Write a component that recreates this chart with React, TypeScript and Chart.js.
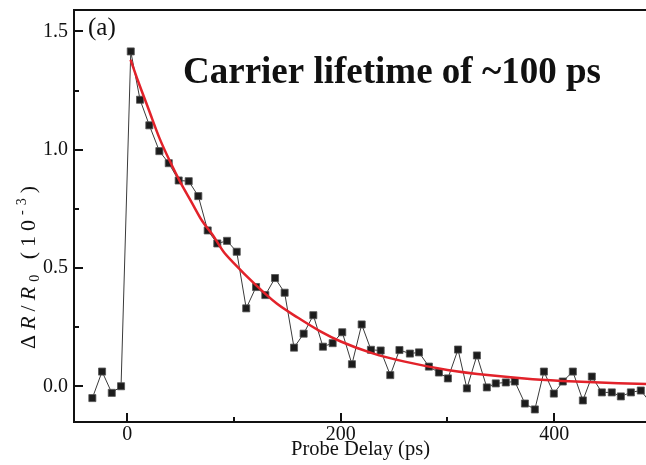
import React, { useEffect, useRef } from "react";
import { Chart, registerables } from "chart.js";

Chart.register(...registerables);

// Measured data (probe delay in ps, ΔR/R0 in 10^-3)
const delayPs = [
  -32.8, -23.7, -14.6, -5.9, 3.2, 11.9, 20.6, 30.0, 38.8, 48.1, 57.5, 66.5, 75.3, 84.3, 93.4,
  102.5, 111.4, 120.6, 129.3, 138.4, 147.4, 156.2, 165.2, 174.3, 183.3, 192.4, 201.4, 210.5,
  219.6, 228.3, 237.4, 246.4, 255.0, 264.8, 273.3, 282.6, 292.0, 300.4, 309.9, 318.2, 327.6,
  336.9, 345.3, 354.7, 363.1, 372.6, 381.9, 390.4, 399.7, 408.1, 417.5, 426.9, 435.3, 444.7,
  454.0, 462.5, 471.9, 481.2, 490.2,
];
const deltaR = [
  -0.049, 0.063, -0.027, 0.001, 1.415, 1.211, 1.103, 0.994, 0.943, 0.87, 0.867, 0.804, 0.659,
  0.604, 0.615, 0.569, 0.33, 0.42, 0.386, 0.458, 0.396, 0.164, 0.223, 0.301, 0.168, 0.183,
  0.229, 0.094, 0.262, 0.155, 0.152, 0.048, 0.154, 0.139, 0.144, 0.084, 0.059, 0.034, 0.156,
  -0.008, 0.131, -0.004, 0.013, 0.017, 0.021, -0.072, -0.097, 0.063, -0.03, 0.021, 0.063,
  -0.059, 0.042, -0.025, -0.025, -0.042, -0.025, -0.017, -0.068,
];

// Fitted decay curve
const fitDelay = [3, 10, 20, 30, 40, 50, 60, 70, 80, 90, 100, 120, 140, 160, 180, 200, 230, 260, 300, 340, 380, 420, 460, 500];
const fitValue = [1.38, 1.29, 1.17, 1.05, 0.95, 0.86, 0.78, 0.7, 0.64, 0.57, 0.52, 0.43, 0.35, 0.29, 0.235, 0.19, 0.14, 0.105, 0.07, 0.047, 0.031, 0.021, 0.014, 0.009];

// Axis ticks
const xMajorTicks = [0, 200, 400];
const xMinorTicks = [100, 300];
const yMajorTicks = [0, 0.5, 1.0, 1.5];
const yMinorTicks = [0.25, 0.75, 1.25];

const SERIF = "'Liberation Serif', 'Times New Roman', serif";

const decorPlugin = {
  id: "decor",
  afterDatasetsDraw(chart: any) {
    const { ctx, chartArea: a, scales } = chart;
    const xs = scales.x;
    const ys = scales.y;
    ctx.save();
    ctx.strokeStyle = "#111";
    ctx.lineWidth = 2;
    ctx.lineCap = "square";
    ctx.beginPath();
    ctx.moveTo(a.right, a.top);
    ctx.lineTo(a.left, a.top);
    ctx.lineTo(a.left, a.bottom);
    ctx.lineTo(a.right, a.bottom);
    ctx.lineTo(a.right, a.top);
    ctx.stroke();
    ctx.lineCap = "butt";
    ctx.beginPath();
    xMajorTicks.forEach((v) => {
      const p = Math.round(xs.getPixelForValue(v));
      ctx.moveTo(p, a.bottom);
      ctx.lineTo(p, a.bottom - 9);
    });
    xMinorTicks.forEach((v) => {
      const p = Math.round(xs.getPixelForValue(v));
      ctx.moveTo(p, a.bottom);
      ctx.lineTo(p, a.bottom - 5);
    });
    yMajorTicks.forEach((v) => {
      const p = Math.round(ys.getPixelForValue(v));
      ctx.moveTo(a.left, p);
      ctx.lineTo(a.left + 9, p);
    });
    yMinorTicks.forEach((v) => {
      const p = Math.round(ys.getPixelForValue(v));
      ctx.moveTo(a.left, p);
      ctx.lineTo(a.left + 5, p);
    });
    ctx.stroke();
    ctx.restore();
  },
  afterDraw(chart: any) {
    const { ctx, chartArea: a } = chart;
    ctx.save();
    ctx.fillStyle = "#111";
    ctx.textBaseline = "alphabetic";
    // panel label
    ctx.font = `25px ${SERIF}`;
    ctx.textAlign = "left";
    ctx.fillText("(a)", 88, 35);
    // annotation
    ctx.font = `bold 37px ${SERIF}`;
    ctx.fillText("Carrier lifetime of ~100 ps", 183, 83);
    // x title
    ctx.font = `20.5px ${SERIF}`;
    ctx.textAlign = "center";
    ctx.fillText("Probe Delay (ps)", (a.left + a.right) / 2, 455);
    // y title (rich text)
    const parts = [
      { t: "Δ", f: `22px ${SERIF}`, dy: 0 },
      { t: "R", f: `italic 22px ${SERIF}`, dy: 0 },
      { t: "/", f: `22px ${SERIF}`, dy: 0 },
      { t: "R", f: `italic 22px ${SERIF}`, dy: 0 },
      { t: "0", f: `14px ${SERIF}`, dy: 4 },
      { t: " (10", f: `22px ${SERIF}`, dy: 0 },
      { t: "-3", f: `14px ${SERIF}`, dy: -9 },
      { t: ")", f: `22px ${SERIF}`, dy: 0 },
    ];
    const spacing = 5;
    (ctx as any).letterSpacing = `${spacing}px`;
    let total = 0;
    const widths = parts.map((p) => {
      ctx.font = p.f;
      const w = ctx.measureText(p.t).width;
      total += w;
      return w;
    });
    ctx.translate(35, 265);
    ctx.rotate(-Math.PI / 2);
    ctx.textAlign = "left";
    let cx = -total / 2;
    parts.forEach((p, i) => {
      ctx.font = p.f;
      ctx.fillText(p.t, cx, p.dy);
      cx += widths[i];
    });
    ctx.restore();
  },
};

export default function App() {
  const ref = useRef<HTMLCanvasElement>(null);
  useEffect(() => {
    const canvas = ref.current;
    if (!canvas) return;
    const chart = new Chart(canvas, {
      type: "line",
      data: {
        datasets: [
          {
            label: "data",
            data: delayPs.map((x, i) => ({ x, y: deltaR[i] })),
            borderColor: "#3a3a3a",
            borderWidth: 1,
            pointStyle: "rect",
            pointRadius: 5,
            pointBackgroundColor: "#1c1c1c",
            pointBorderColor: "#555",
            pointBorderWidth: 0.8,
            tension: 0,
            order: 2,
          },
          {
            label: "fit",
            data: fitDelay.map((x, i) => ({ x, y: fitValue[i] })),
            borderColor: "#e2222a",
            borderWidth: 2.5,
            pointRadius: 0,
            cubicInterpolationMode: "monotone",
            order: 1,
          },
        ],
      },
      options: {
        responsive: false,
        animation: false,
        layout: { padding: { left: 0, right: 13, top: 10, bottom: 0 } },
        plugins: { legend: { display: false }, tooltip: { enabled: false } },
        scales: {
          x: {
            type: "linear",
            min: -50,
            max: 487,
            afterBuildTicks: (s: any) => {
              s.ticks = xMajorTicks.map((v) => ({ value: v }));
            },
            afterFit: (s: any) => {
              s.height = 43;
              s.paddingLeft = 0;
              s.paddingRight = 0;
            },
            grid: { display: false, drawTicks: false },
            border: { display: false },
            ticks: {
              padding: 1,
              color: "#111",
              font: { family: SERIF, size: 20 },
              maxRotation: 0,
              callback: (v: any) => String(v),
            },
          },
          y: {
            type: "linear",
            min: -0.15,
            max: 1.59,
            afterBuildTicks: (s: any) => {
              s.ticks = yMajorTicks.map((v) => ({ value: v }));
            },
            afterFit: (s: any) => {
              s.width = 74;
              s.paddingTop = 0;
              s.paddingBottom = 0;
            },
            grid: { display: false, drawTicks: false },
            border: { display: false },
            ticks: {
              padding: 6,
              color: "#111",
              font: { family: SERIF, size: 20 },
              callback: (v: any) => Number(v).toFixed(1),
            },
          },
        },
      },
      plugins: [decorPlugin],
    });
    return () => chart.destroy();
  }, []);
  return (
    <div style={{ position: "fixed", left: 0, top: 0, width: 660, height: 465, background: "#fff" }}>
      <canvas ref={ref} width={660} height={465} style={{ display: "block" }} />
    </div>
  );
}
